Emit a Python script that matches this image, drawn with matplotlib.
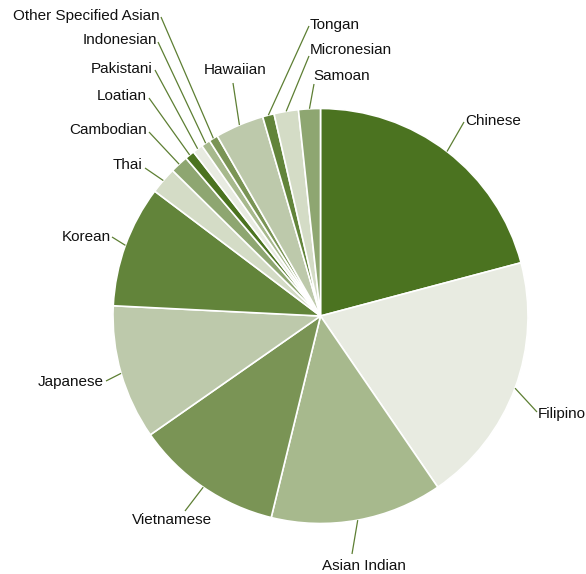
import numpy as np
import matplotlib
matplotlib.use("Agg")
import matplotlib.pyplot as plt

# Asian American / Pacific Islander groups, share of total (%)
groups = ["Chinese", "Filipino", "Asian Indian", "Vietnamese", "Japanese", "Korean",
          "Thai", "Cambodian", "Loatian", "Pakistani", "Indonesian",
          "Other Specified Asian", "Hawaiian", "Tongan", "Micronesian", "Samoan"]
shares = [20.9, 19.6, 13.4, 11.5, 10.5, 9.5,
          2.1, 1.4, 0.75, 0.8, 0.7,
          0.7, 3.8, 0.9, 1.9, 1.7]

palette = ["#4b7320", "#e8ebe1", "#a7b98d", "#7a9455",
           "#bdc9ab", "#62843a", "#d4dcc6", "#8ea671"]
line_color = "#5d7f33"

W, H = 586, 574
fig = plt.figure(figsize=(W / 100, H / 100), dpi=100)
ax = fig.add_axes([0, 0, 1, 1])

cx, cy, r = 320.5, H - 316, 207.5
colors = [palette[i % len(palette)] for i in range(len(groups))]
wedges, _ = ax.pie(shares, colors=colors, startangle=90, counterclock=False,
                   center=(cx, cy), radius=r, frame=True,
                   wedgeprops=dict(edgecolor="white", linewidth=1.2))
ax.set_xlim(0, W)
ax.set_ylim(0, H)
ax.set_aspect("equal")
ax.axis("off")

# label anchors (pixel coords from the top-left), and text alignment
label_pos = {
    "Chinese": (465, 121, "left"),
    "Filipino": (538, 414, "left"),
    "Asian Indian": (364, 566, "center"),
    "Vietnamese": (172, 520, "center"),
    "Japanese": (104, 382, "right"),
    "Korean": (111, 237, "right"),
    "Thai": (142, 165, "right"),
    "Cambodian": (147, 130, "right"),
    "Loatian": (147, 96, "right"),
    "Pakistani": (153, 69, "right"),
    "Indonesian": (157, 40, "right"),
    "Other Specified Asian": (160, 16, "right"),
    "Hawaiian": (235, 70, "center"),
    "Tongan": (310, 25, "left"),
    "Micronesian": (310, 50, "left"),
    "Samoan": (313, 76, "left"),
}
# where the leader line meets the text
line_end = {
    "Chinese": (464, 122), "Filipino": (537, 412), "Asian Indian": (352, 554),
    "Vietnamese": (185, 511), "Japanese": (106, 381), "Korean": (112, 237),
    "Thai": (145, 168), "Cambodian": (149, 132), "Loatian": (149, 98),
    "Pakistani": (155, 70), "Indonesian": (158, 42), "Other Specified Asian": (161, 17),
    "Hawaiian": (233, 83), "Tongan": (309, 26), "Micronesian": (309, 56),
    "Samoan": (314, 84),
}

for w, name in zip(wedges, groups):
    mid = np.deg2rad((w.theta1 + w.theta2) / 2)
    x0, y0 = cx + r * np.cos(mid), cy + r * np.sin(mid)
    ex, ey = line_end[name]
    ax.plot([x0, ex], [y0, H - ey], color=line_color, lw=0.9, solid_capstyle="butt")
    tx, ty, ha = label_pos[name]
    ax.text(tx, H - ty, name, ha=ha, va="center", fontsize=11,
            family="Liberation Sans", color="#111111")

fig.savefig("out.png", dpi=100)
